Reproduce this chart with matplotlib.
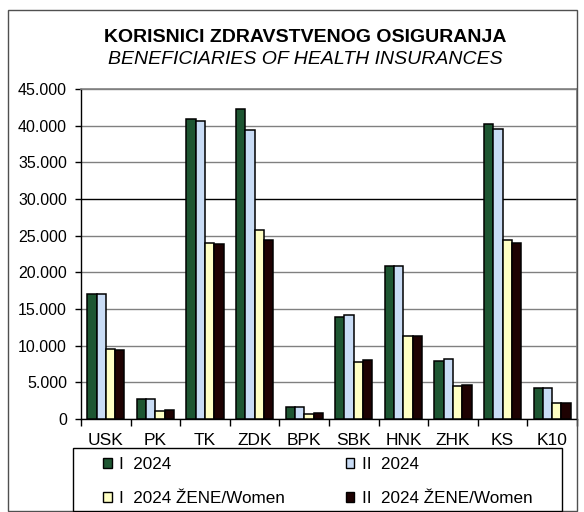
import numpy as np
import matplotlib
matplotlib.use("Agg")
import matplotlib.pyplot as plt
from matplotlib.patches import Rectangle, Patch
from matplotlib.ticker import FuncFormatter

plt.rcParams["font.family"] = ["Liberation Sans", "DejaVu Sans"]

categories = ["USK", "PK", "TK", "ZDK", "BPK", "SBK", "HNK", "ZHK", "KS", "K10"]
series_labels = ["I  2024", "II  2024", "I  2024 ŽENE/Women", "II  2024 ŽENE/Women"]
i_2024 = [17050, 2770, 40970, 42330, 1580, 13960, 20910, 7950, 40240, 4270]
ii_2024 = [17050, 2770, 40650, 39370, 1580, 14140, 20910, 8130, 39560, 4270]
i_2024_women = [9550, 1130, 24010, 25730, 720, 7820, 11270, 4540, 24460, 2180]
ii_2024_women = [9450, 1270, 23900, 24420, 810, 8050, 11270, 4640, 24010, 2220]
colors = ["#1e5632", "#c9dcf5", "#ffffc4", "#1e0202"]

W, H = 584, 512
fig = plt.figure(figsize=(W / 100, H / 100), dpi=100)
# outer chart border
fig.patches.append(Rectangle((8 / W, 1 - 511 / H), 569 / W, 501 / H,
                             transform=fig.transFigure, fill=False,
                             edgecolor="#505050", lw=1.0))
# legend box
fig.patches.append(Rectangle((73 / W, 1 - 511 / H), 489 / W, 63 / H,
                             transform=fig.transFigure, facecolor="white",
                             edgecolor="black", lw=1.0, zorder=2))

ax = fig.add_axes([81 / W, 1 - 419 / H, 496 / W, 330 / H])
x = np.arange(len(categories))
bw = 0.1875
for k, vals in enumerate([i_2024, ii_2024, i_2024_women, ii_2024_women]):
    ax.bar(x - 1.5 * bw + k * bw, vals, width=bw, color=colors[k],
           edgecolor="black", linewidth=1.1, zorder=3)

ax.set_xlim(-0.5, len(categories) - 0.5)
ax.set_ylim(0, 45000)
ax.set_yticks(np.arange(0, 45001, 5000))
ax.yaxis.set_major_formatter(FuncFormatter(lambda v, p: f"{int(v):,}".replace(",", ".")))
ax.grid(axis="y", color="#808080", lw=1.0, zorder=0)
ax.get_ygridlines()[6].set_color("black")
ax.set_xticks(x)
ax.set_xticklabels(categories, fontsize=12.5)
ax.set_xticks(np.arange(-0.5, len(categories)), minor=True)
ax.tick_params(axis="x", which="major", length=0, pad=10)
ax.tick_params(axis="x", which="minor", length=5, width=1, color="black")
ax.tick_params(axis="y", labelsize=11.5, length=4, width=1, pad=6)
for s in ["top", "right"]:
    ax.spines[s].set_color("#808080")
    ax.spines[s].set_linewidth(1.2)
for s in ["left", "bottom"]:
    ax.spines[s].set_color("black")
    ax.spines[s].set_linewidth(1.0)

fig.text(305 / W, 1 - 37 / H, "KORISNICI ZDRAVSTVENOG OSIGURANJA",
         ha="center", va="center", fontsize=14, fontweight="bold")
fig.text(305 / W, 1 - 60 / H, "BENEFICIARIES OF HEALTH INSURANCES",
         ha="center", va="center", fontsize=14, style="italic")

handles = [Patch(facecolor=c, edgecolor="black", lw=1.0) for c in colors]
order = [0, 2, 1, 3]
leg = fig.legend([handles[i] for i in order], [series_labels[i] for i in order],
                 loc="upper left", ncol=2, bbox_to_anchor=(103 / W, 1 - 457 / H),
                 fontsize=12.3, frameon=False,
                 handlelength=0.5, handleheight=0.5, handletextpad=0.45,
                 borderpad=0, labelspacing=1.1, borderaxespad=0,
                 columnspacing=3.55)
leg.set_zorder(3)

fig.savefig("out.png", dpi=100)
